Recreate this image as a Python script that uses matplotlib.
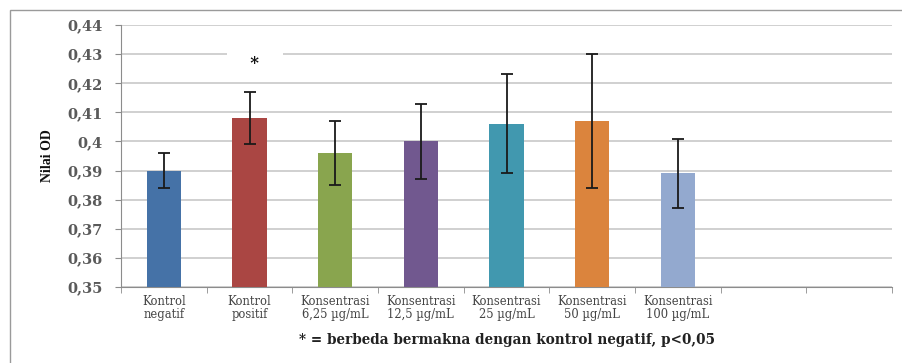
import matplotlib
matplotlib.use("Agg")
import matplotlib.pyplot as plt
from matplotlib.patches import Rectangle
from matplotlib.ticker import FixedLocator, FuncFormatter

plt.rcParams['font.family'] = ['DejaVu Serif', 'Liberation Serif']

categories = ["Kontrol\nnegatif", "Kontrol\npositif", "Konsentrasi\n6,25 µg/mL",
              "Konsentrasi\n12,5 µg/mL", "Konsentrasi\n25 µg/mL",
              "Konsentrasi\n50 µg/mL", "Konsentrasi\n100 µg/mL", "", ""]
values = [0.390, 0.408, 0.396, 0.400, 0.406, 0.407, 0.389]
errors = [0.006, 0.009, 0.011, 0.013, 0.017, 0.023, 0.012]
colors = ["#4572A7", "#AA4643", "#89A54E", "#71588F", "#4198AF", "#DB843D", "#93A9CF"]
y_ticks = [0.35, 0.36, 0.37, 0.38, 0.39, 0.40, 0.41, 0.42, 0.43, 0.44]
sig_index = 1
sig_y = 0.4268

fig = plt.figure(figsize=(9.02, 3.63), dpi=100)
fig.patch.set_facecolor("white")

# outer chart frame
fig.add_artist(Rectangle((10 / 902, -0.1), 1.2, 1 - 10 / 363 + 0.1,
                         transform=fig.transFigure, fill=False,
                         edgecolor="#9a9a9a", linewidth=1.0))

ax = fig.add_axes([121 / 902, 1 - 287 / 363, 771 / 902, 262 / 363])
n = len(categories)
x = list(range(len(values)))
ax.bar(x, [v - y_ticks[0] for v in values], bottom=y_ticks[0], width=0.4,
       color=colors, zorder=3)
ax.errorbar(x, values, yerr=errors, fmt="none", ecolor="#1a1a1a",
            elinewidth=1.3, capsize=4, capthick=1.3, zorder=4)

ax.set_xlim(-0.5, n - 0.5)
ax.set_ylim(y_ticks[0], y_ticks[-1])
ax.yaxis.set_major_locator(FixedLocator(y_ticks))

def fmt(v, pos):
    s = ("%.2f" % v).rstrip("0")
    return s.replace(".", ",")

ax.yaxis.set_major_formatter(FuncFormatter(fmt))
ax.set_xticks(range(n))
ax.set_xticklabels(categories, fontsize=8.3, color="#444444", linespacing=1.0)
ax.set_xticks([i - 0.5 for i in range(n + 1)], minor=True)
ax.tick_params(axis="x", which="major", length=0, pad=6)
ax.tick_params(axis="x", which="minor", length=4, color="#8c8c8c", direction="out")
ax.tick_params(axis="y", length=4, color="#8c8c8c", labelsize=10.5,
               labelcolor="#5a5a5a", pad=9)
for lab in ax.get_yticklabels():
    lab.set_fontweight("bold")

ax.grid(axis="y", color="#c8c8c8", linewidth=1.2, zorder=0)
for side in ("top", "right"):
    ax.spines[side].set_visible(False)
ax.spines["left"].set_color("#8c8c8c")
ax.spines["bottom"].set_color("#8c8c8c")

ax.set_ylabel("Nilai OD", fontsize=10, fontweight="bold", color="#111111",
              labelpad=10, family=["Liberation Serif"])

# significance marker in a white text box, nudged slightly right of the bar
ax.annotate("   *   ", xy=(sig_index, sig_y), xytext=(4, 0), textcoords="offset points",
            ha="center", va="center", fontsize=12, fontweight="bold",
            color="#111111", zorder=5,
            bbox=dict(facecolor="white", edgecolor="none", boxstyle="square,pad=0.4"))

fig.text(507 / 902, 1 - 340 / 363, "* = berbeda bermakna dengan kontrol negatif, p<0,05",
         ha="center", va="center", fontsize=9.8, fontweight="bold", color="#222222")

fig.savefig("out.png", dpi=100)
